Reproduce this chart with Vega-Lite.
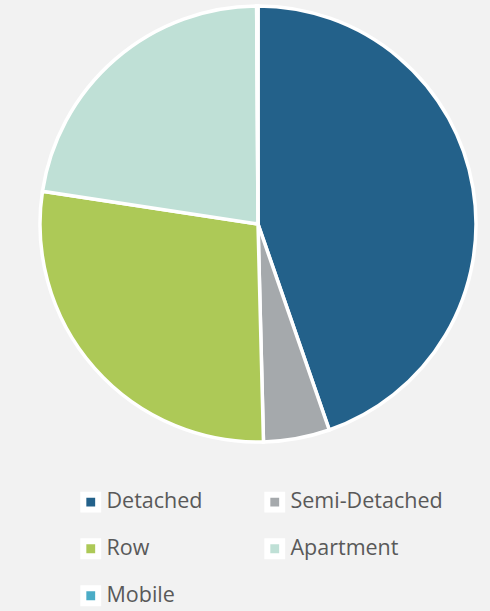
{
  "$schema": "https://vega.github.io/schema/vega-lite/v6.json",
  "width": 464,
  "height": 448,
  "autosize": {"type": "none"},
  "padding": {"left": 26, "top": 0, "right": 0, "bottom": 163},
  "background": "#f2f2f2",
  "config": {"view": {"stroke": null}},
  "data": {
    "values": [
      {"type": "Detached", "share": 44.7, "idx": 1},
      {"type": "Semi-Detached", "share": 4.9, "idx": 2},
      {"type": "Row", "share": 27.8, "idx": 3},
      {"type": "Apartment", "share": 22.5, "idx": 4},
      {"type": "Mobile", "share": 0.1, "idx": 5}
    ]
  },
  "mark": {"type": "arc", "outerRadius": 218, "stroke": "white", "strokeWidth": 3.5},
  "encoding": {
    "theta": {"field": "share", "type": "quantitative", "stack": true},
    "order": {"field": "idx", "type": "quantitative"},
    "color": {
      "field": "type",
      "type": "nominal",
      "scale": {
        "domain": ["Detached", "Semi-Detached", "Row", "Apartment", "Mobile"],
        "range": ["#23618a", "#a5a9ac", "#adc957", "#bfe0d6", "#4bacc6"]
      },
      "legend": {
        "title": null,
        "orient": "none",
        "direction": "horizontal",
        "legendX": 54,
        "legendY": 491,
        "columns": 2,
        "columnPadding": 52,
        "rowPadding": 7,
        "padding": 0,
        "symbolType": "square",
        "symbolSize": 220,
        "symbolStrokeColor": "white",
        "symbolStrokeWidth": 6,
        "symbolOpacity": 1,
        "labelFont": "Open Sans",
        "labelFontSize": 21.5,
        "labelColor": "#595959",
        "labelOffset": 5,
        "labelLimit": 300
      }
    }
  }
}
